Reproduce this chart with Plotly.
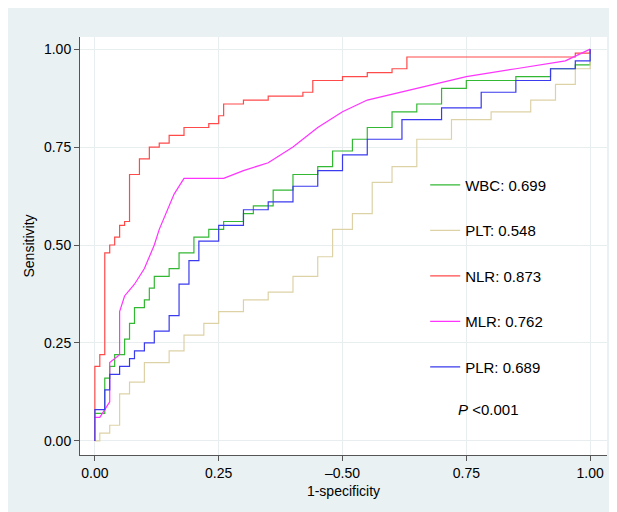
import plotly.graph_objects as go

wbc_x = [0, 0.01, 0.02, 0.03, 0.04, 0.06, 0.07, 0.08, 0.10, 0.11, 0.12, 0.15, 0.17, 0.20, 0.23, 0.26, 0.30, 0.32, 0.36, 0.40, 0.45, 0.48, 0.52, 0.55, 0.60, 0.65, 0.70, 0.75, 0.85, 0.92, 0.97, 1]
wbc_y = [0.07, 0.07, 0.16, 0.19, 0.22, 0.26, 0.30, 0.34, 0.36, 0.39, 0.42, 0.44, 0.48, 0.52, 0.54, 0.56, 0.58, 0.60, 0.64, 0.68, 0.70, 0.74, 0.77, 0.80, 0.84, 0.86, 0.90, 0.92, 0.93, 0.95, 0.96, 1]

plt_x = [0, 0.01, 0.03, 0.05, 0.07, 0.10, 0.15, 0.18, 0.22, 0.25, 0.30, 0.35, 0.40, 0.45, 0.48, 0.52, 0.56, 0.60, 0.65, 0.72, 0.80, 0.88, 0.93, 0.97, 1]
plt_y = [0, 0.02, 0.04, 0.12, 0.15, 0.20, 0.23, 0.27, 0.30, 0.33, 0.36, 0.38, 0.42, 0.47, 0.54, 0.58, 0.66, 0.70, 0.77, 0.82, 0.84, 0.87, 0.91, 0.95, 1]

nlr_x = [0, 0, 0.01, 0.02, 0.03, 0.04, 0.05, 0.06, 0.07, 0.09, 0.10, 0.11, 0.13, 0.15, 0.18, 0.23, 0.25, 0.26, 0.30, 0.35, 0.42, 0.44, 0.50, 0.55, 0.60, 0.63, 0.97, 1]
nlr_y = [0, 0.19, 0.22, 0.48, 0.50, 0.52, 0.55, 0.56, 0.68, 0.72, 0.72, 0.75, 0.76, 0.78, 0.80, 0.81, 0.83, 0.86, 0.87, 0.88, 0.89, 0.92, 0.93, 0.94, 0.95, 0.98, 0.99, 1]

mlr_x = [0, 0.01, 0.02, 0.03, 0.03, 0.05, 0.05, 0.06, 0.08, 0.10, 0.12, 0.13, 0.16, 0.18, 0.26, 0.30, 0.35, 0.40, 0.45, 0.50, 0.55, 0.65, 0.75, 0.85, 0.95, 1]
mlr_y = [0.06, 0.06, 0.08, 0.10, 0.20, 0.22, 0.33, 0.37, 0.40, 0.44, 0.50, 0.54, 0.63, 0.67, 0.67, 0.69, 0.71, 0.75, 0.80, 0.84, 0.87, 0.90, 0.93, 0.95, 0.97, 1]

plr_x = [0, 0, 0.02, 0.03, 0.05, 0.07, 0.08, 0.10, 0.12, 0.15, 0.17, 0.19, 0.21, 0.25, 0.30, 0.35, 0.40, 0.45, 0.50, 0.55, 0.62, 0.70, 0.78, 0.85, 0.92, 0.97, 1]
plr_y = [0, 0.08, 0.13, 0.17, 0.19, 0.21, 0.23, 0.25, 0.28, 0.32, 0.40, 0.46, 0.51, 0.55, 0.59, 0.61, 0.65, 0.69, 0.73, 0.77, 0.82, 0.85, 0.89, 0.92, 0.95, 0.97, 1]

series = [
    ("WBC: 0.699", wbc_x, wbc_y, "#33b833", "hv"),
    ("PLT: 0.548", plt_x, plt_y, "#ddd2a6", "hv"),
    ("NLR: 0.873", nlr_x, nlr_y, "#ff4a4a", "hv"),
    ("MLR: 0.762", mlr_x, mlr_y, "#ff33ff", "linear"),
    ("PLR: 0.689", plr_x, plr_y, "#3a3aee", "hv"),
]

fig = go.Figure()
for i, (name, x, y, c, shape) in enumerate(series):
    fig.add_trace(go.Scatter(x=x, y=y, mode="lines", name=name, line=dict(color=c, width=1.2, shape=shape),
                             legendgroup=str(i)))

fig.add_annotation(x=0.73, y=0.08, xref="x", yref="y", xanchor="left", showarrow=False,
                   text="<i>P</i> <0.001", font=dict(size=15, color="black"))

axis = dict(showgrid=True, gridcolor="#e8eef0", zeroline=False, showline=True, linecolor="#555",
            ticks="outside", tickcolor="#555", mirror=False, tickfont=dict(size=14, color="black"))
fig.update_xaxes(axis, range=[-0.03, 1.034], tickvals=[0, 0.25, 0.5, 0.75, 1],
                 ticktext=["0.00", "0.25", "\u20130.50", "0.75", "1.00"],
                 title=dict(text="1-specificity", font=dict(size=14, color="black"), standoff=6))
fig.update_yaxes(axis, range=[-0.036, 1.031], tickvals=[0, 0.25, 0.5, 0.75, 1],
                 ticktext=["0.00", "0.25", "0.50", "0.75", "1.00"],
                 title=dict(text="Sensitivity", font=dict(size=14, color="black"), standoff=6))

fig.update_layout(width=617, height=512, margin=dict(l=72, r=18, t=29, b=65),
                  paper_bgcolor="#eaf1f3", plot_bgcolor="white",
                  font=dict(family="Liberation Sans, Arial", color="black"),
                  legend=dict(x=0.655, y=0.685, xanchor="left", yanchor="top", bgcolor="rgba(0,0,0,0)",
                              font=dict(size=15), tracegroupgap=23, itemwidth=30))
fig.write_html("out.html")
